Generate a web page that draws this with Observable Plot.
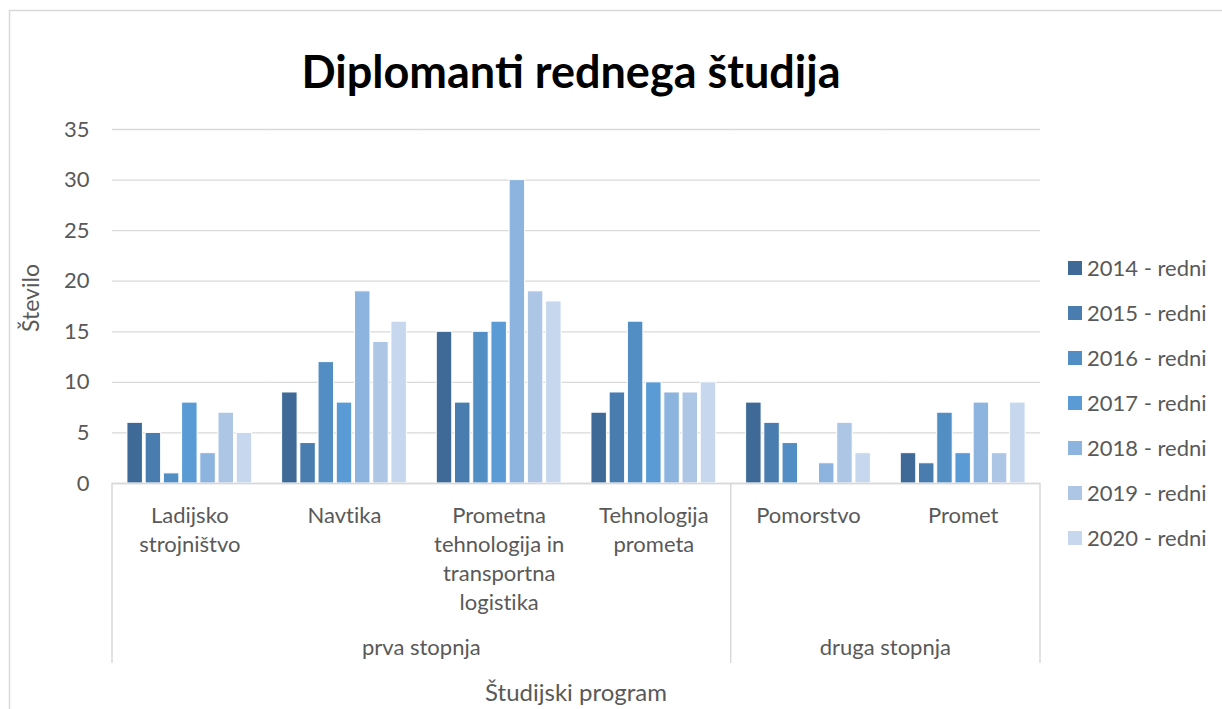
<!DOCTYPE html>
<html><head><meta charset="utf-8">
<script src="https://cdn.jsdelivr.net/npm/d3@7"></script>
<script src="https://cdn.jsdelivr.net/npm/@observablehq/plot@0.6"></script>
<style>
html,body{margin:0;padding:0;background:#fff;overflow:hidden;}
#wrap{position:relative;width:1222px;height:709px;overflow:hidden;}
svg text{font-variant-ligatures:none;font-feature-settings:"liga" 0,"clig" 0;}
</style></head><body><div id="wrap"></div>
<script>
const categories = ["Ladijsko strojništvo","Navtika","Prometna tehnologija in transportna logistika","Tehnologija prometa","Pomorstvo","Promet"];
const categoryLabels = ["Ladijsko\nstrojništvo","Navtika","Prometna\ntehnologija in\ntransportna\nlogistika","Tehnologija\nprometa","Pomorstvo","Promet"];
const levels = ["prva stopnja","prva stopnja","prva stopnja","prva stopnja","druga stopnja","druga stopnja"];
const years = ["2014 - redni","2015 - redni","2016 - redni","2017 - redni","2018 - redni","2019 - redni","2020 - redni"];
const colors = ["#3F6A97","#4A7DAF","#528EC3","#5B9BD5","#8DB3DF","#ADC6E6","#C6D7EE"];
const v2014 = [6, 9, 15, 7, 8, 3];
const v2015 = [5, 4, 8, 9, 6, 2];
const v2016 = [1, 12, 15, 16, 4, 7];
const v2017 = [8, 8, 16, 10, 0, 3];
const v2018 = [3, 19, 30, 9, 2, 8];
const v2019 = [7, 14, 19, 9, 6, 3];
const v2020 = [5, 16, 18, 10, 3, 8];
const yTicks = [0, 5, 10, 15, 20, 25, 30, 35];
const title = "Diplomanti rednega študija";
const yTitle = "Število";
const xTitle = "Študijski program";

const series = [v2014, v2015, v2016, v2017, v2018, v2019, v2020];
const data = [];
years.forEach((yr, i) => categories.forEach((c, j) => data.push({category: c, year: yr, value: series[i][j]})));

const FONT = "Lato, 'Open Sans', sans-serif";
const TXT = "#595959";
const FS = 22;

const plot = Plot.plot({
  width: 1222, height: 709,
  marginTop: 129, marginBottom: 226, marginLeft: 112, marginRight: 182,
  style: {fontFamily: FONT, background: "transparent", color: TXT},
  fx: {domain: categories, padding: 0, round: false, label: null},
  x: {domain: years, paddingInner: 0.15, paddingOuter: 0.82, round: false, axis: null},
  y: {domain: [0, 35], label: null},
  color: {domain: years, range: colors},
  marks: [
    Plot.ruleY(yTicks, {stroke: "#D9D9D9", strokeWidth: 1.3}),
    Plot.barY(data, {fx: "category", x: "year", y: "value", fill: "year", stroke: "white", strokeWidth: 1}),
    Plot.ruleY([0], {stroke: "#D9D9D9", strokeWidth: 1.5}),
    Plot.axisY({ticks: yTicks, tickSize: 0, tickPadding: 23, fontSize: FS, fill: TXT, label: null}),
    Plot.axisFx({anchor: "bottom", tickSize: 0, tickPadding: 19, fontSize: FS, fill: TXT, lineHeight: 1.32,
      tickFormat: c => categoryLabels[categories.indexOf(c)], label: null})
  ]
});
document.getElementById("wrap").appendChild(plot);

const svg = d3.select(plot);
const fx = plot.scale("fx");
const y = plot.scale("y");
const y0 = y.apply(0);
const bw = fx.bandwidth;

// outer chart border
svg.insert("path", ":first-child")
  .attr("d", `M9.5,709V10.5H1222`)
  .attr("fill", "none").attr("stroke", "#D9D9D9").attr("stroke-width", 1.5);

// group dividers and labels
const groups = d3.groups(categories.map((c, i) => ({c, l: levels[i]})), d => d.l);
const bounds = [];
groups.forEach(([lvl, items]) => {
  const x1 = fx.apply(items[0].c);
  const x2 = fx.apply(items[items.length - 1].c) + bw;
  bounds.push(x1, x2);
  svg.append("text").attr("x", (x1 + x2) / 2).attr("y", y0 + 172)
    .attr("text-anchor", "middle").attr("fill", TXT)
    .style("font", `${FS}px ${FONT}`).text(lvl);
});
Array.from(new Set(bounds.map(b => Math.round(b * 10) / 10))).forEach(b => {
  svg.append("line").attr("x1", b).attr("x2", b).attr("y1", y0).attr("y2", y0 + 180)
    .attr("stroke", "#D9D9D9").attr("stroke-width", 1.5);
});

// titles
const xMid = (fx.apply(categories[0]) + fx.apply(categories[categories.length - 1]) + bw) / 2;
svg.append("text").attr("x", 571).attr("y", 88).attr("text-anchor", "middle")
  .attr("fill", "#000").style("font", `bold 45px ${FONT}`).text(title);
svg.append("text").attr("transform", `translate(39,${(y.apply(35) + y0) / 2 - 8}) rotate(-90)`)
  .attr("text-anchor", "middle").attr("fill", TXT).style("font", `23px ${FONT}`).text(yTitle);
svg.append("text").attr("x", xMid).attr("y", 701).attr("text-anchor", "middle")
  .attr("fill", TXT).style("font", `24px ${FONT}`).text(xTitle);

// legend
const color = plot.scale("color");
const lg = svg.append("g").attr("text-anchor", "start");
years.forEach((yr, i) => {
  const cy = 268 + i * 45;
  lg.append("rect").attr("x", 1068).attr("y", cy - 7).attr("width", 14).attr("height", 14).attr("fill", color.apply(yr));
  lg.append("text").attr("x", 1087).attr("y", cy + 8).attr("fill", TXT).attr("text-anchor", "start")
    .style("font", `${FS}px ${FONT}`).text(yr);
});
</script></body></html>
